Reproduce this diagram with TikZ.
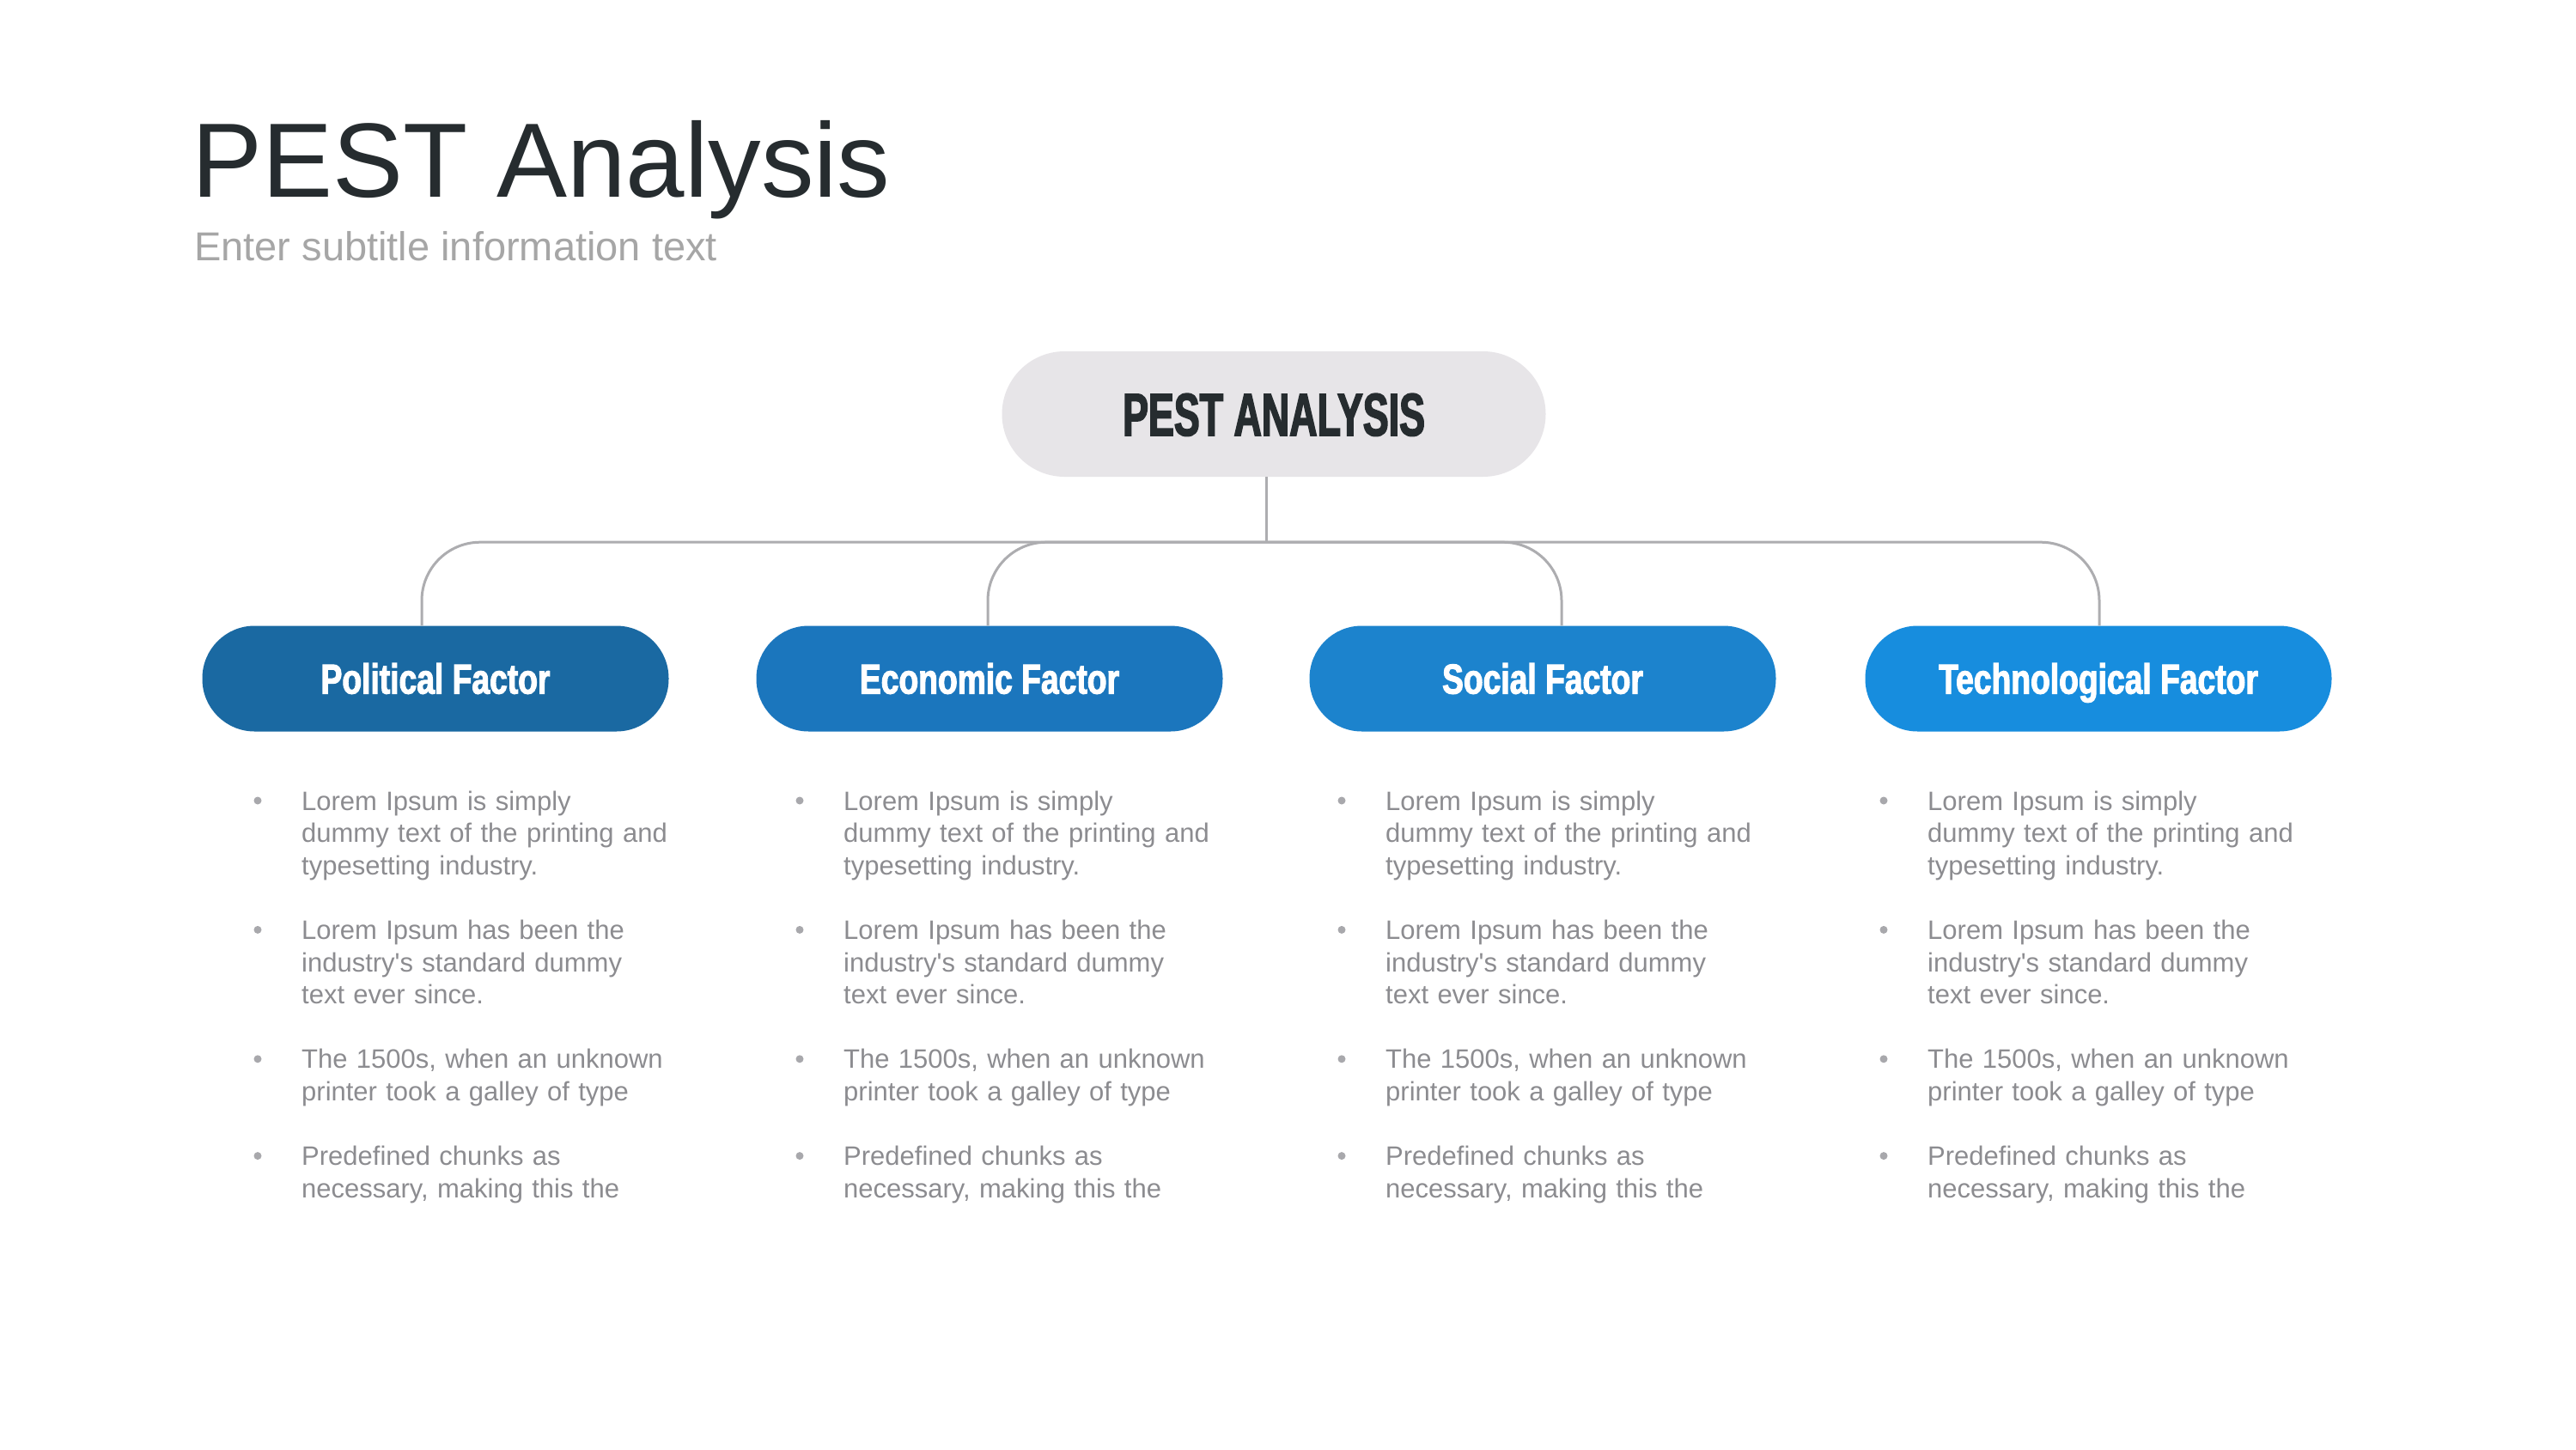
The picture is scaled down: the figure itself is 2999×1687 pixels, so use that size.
\documentclass[tikz,border=0pt]{standalone}
\usepackage{fontspec}
\setmainfont{Liberation Sans}
\newfontfamily\pestfont[FakeStretch=0.64,FakeBold=2.2]{Liberation Sans}
\newfontfamily\factfont[FakeStretch=0.76,FakeBold=2.2]{Liberation Sans}
\usetikzlibrary{calc}
\definecolor{titlec}{HTML}{262C2F}
\definecolor{subc}{HTML}{A6A6A6}
\definecolor{pestgray}{HTML}{E7E5E8}
\definecolor{linegray}{HTML}{ADADB0}
\definecolor{bodygray}{HTML}{8C8C90}
\definecolor{dotgray}{HTML}{A8A8AC}
\definecolor{cpol}{HTML}{1A69A2}
\definecolor{ceco}{HTML}{1B76BD}
\definecolor{csoc}{HTML}{1C83CD}
\definecolor{ctec}{HTML}{178DDE}
\begin{document}
\begin{tikzpicture}[x=1pt,y=-1pt,
  pestbox/.style={rectangle, rounded corners=73pt, fill=pestgray, minimum width=633pt, minimum height=146pt, inner sep=0pt, text=titlec, font=\pestfont\bfseries\fontsize{70}{70}\selectfont, text height=50pt, text depth=0pt},
  factbox/.style={rectangle, rounded corners=61pt, minimum width=543pt, minimum height=123pt, inner sep=0pt, text=white, font=\factfont\bfseries\fontsize{49}{49}\selectfont, text height=35pt, text depth=0pt},
  conn/.style={draw=linegray, line width=3pt, rounded corners=68pt},
  para/.style={anchor=base west, inner sep=0pt, text width=560pt, align=left, text=bodygray, font=\fontsize{31}{37.6}\selectfont},
  dot/.style={circle, fill=dotgray, inner sep=0pt, minimum size=9pt}
]
\useasboundingbox[fill=white] (0,0) rectangle (2999,1687);

\node[anchor=base west, inner sep=0pt, text=titlec, font=\fontsize{123}{130}\selectfont] (title) at (223,229) {PEST Analysis};
\node[anchor=base west, inner sep=0pt, text=subc, font=\fontsize{47}{50}\selectfont] (subtitle) at (226,303) {Enter subtitle information text};

\node[pestbox] (pest) at (1483,482) {PEST ANALYSIS};

\node[factbox, fill=cpol] (pol) at (507,790) {Political Factor};
\node[factbox, fill=ceco] (eco) at (1152,790) {Economic Factor};
\node[factbox, fill=csoc] (soc) at (1796,790) {Social Factor};
\node[factbox, fill=ctec] (tec) at (2443,790) {Technological Factor};

\coordinate (top) at ($(pest.south)+(-9,0)$);
\coordinate (bus) at ($(pest.south)+(-9,76)$);
\coordinate (pj) at ($(pol.north)+(-16,0)$);
\coordinate (ej) at ($(eco.north)+(-2,0)$);
\coordinate (sj) at ($(soc.north)+(22,0)$);
\coordinate (tj) at ($(tec.north)+(1,0)$);

\draw[conn] (top) -- (bus);
\draw[conn] (pj) |- (bus) -| (tj);
\draw[conn] (ej) |- (bus);
\draw[conn] (sj) |- (bus);

\foreach \i/\bx in {1/0, 2/631, 3/1262, 4/1893} {
  \node[dot] (d\i-1) at (300+\bx, 932) {};
  \node[para] (p\i-1) at (351+\bx, 943) {Lorem Ipsum is simply\\dummy text of the printing and\\typesetting industry.};
  \node[dot] (d\i-2) at (300+\bx, 1082.4) {};
  \node[para] (p\i-2) at (351+\bx, 1093.4) {Lorem Ipsum has been the\\industry\textquotesingle s standard dummy\\text ever since.};
  \node[dot] (d\i-3) at (300+\bx, 1232.8) {};
  \node[para] (p\i-3) at (351+\bx, 1243.8) {The 1500s, when an unknown\\printer took a galley of type};
  \node[dot] (d\i-4) at (300+\bx, 1345.6) {};
  \node[para] (p\i-4) at (351+\bx, 1356.6) {Predefined chunks as\\necessary, making this the};
}
\end{tikzpicture}
\end{document}
